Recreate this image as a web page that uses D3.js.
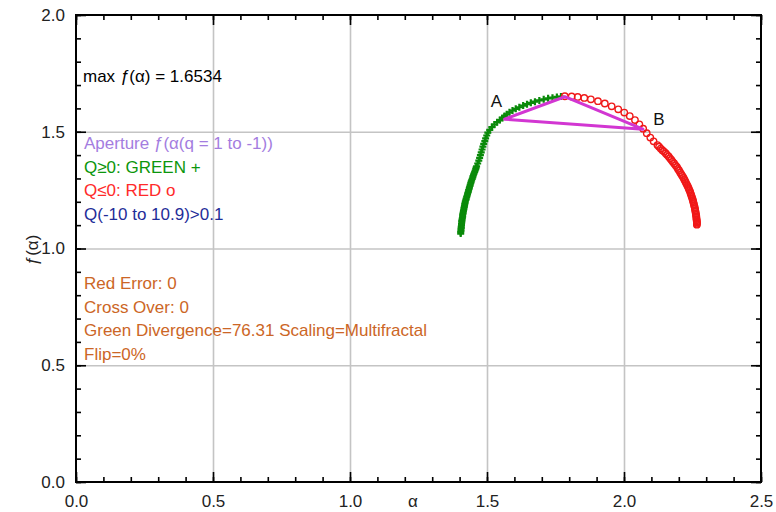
<!DOCTYPE html>
<head>
  <meta charset="utf-8">
  <title>Multifractal spectrum</title>
  <style>
    body { margin: 0; background: #fff; }
    text { font-family: "Liberation Sans", Arial, sans-serif; }
  </style>
</head>
<body>
<script src="https://d3js.org/d3.v7.min.js"></script>
<script>
// green + points (q >= 0)
var greenAlpha = [1.404,1.404,1.405,1.405,1.406,1.406,1.407,1.407,1.408,1.408,1.409,1.410,1.411,1.411,1.412,1.413,1.414,1.415,1.416,1.417,1.418,1.419,1.420,1.421,1.423,1.424,1.426,1.427,1.429,1.430,1.432,1.433,1.435,1.436,1.438,1.439,1.441,1.442,1.444,1.446,1.448,1.449,1.451,1.453,1.455,1.457,1.459,1.460,1.462,
                  1.466,1.470,1.473,1.476,1.479,1.482,1.485,1.488,1.492,1.495,1.499,1.503,1.510,1.518,1.527,1.537,1.547,1.556,1.564,1.572,1.582,1.593,1.605,1.618,1.632,1.646,1.660,1.675,1.691,1.707,1.723,1.739,1.755,1.770];
var greenF     = [1.064,1.070,1.076,1.082,1.088,1.094,1.100,1.106,1.112,1.118,1.124,1.130,1.136,1.142,1.148,1.154,1.160,1.166,1.172,1.178,1.184,1.190,1.196,1.202,1.208,1.214,1.220,1.226,1.232,1.238,1.244,1.250,1.256,1.262,1.268,1.274,1.280,1.286,1.292,1.298,1.304,1.310,1.316,1.322,1.328,1.334,1.340,1.346,1.352,
                  1.364,1.376,1.388,1.400,1.412,1.424,1.436,1.448,1.460,1.472,1.484,1.496,1.508,1.520,1.531,1.541,1.550,1.559,1.567,1.575,1.583,1.591,1.598,1.605,1.612,1.618,1.624,1.629,1.634,1.639,1.643,1.646,1.649,1.651];

// red o points (q <= 0)
var redAlpha = [1.784,1.809,1.831,1.855,1.879,1.905,1.930,1.955,1.979,2.001,2.021,2.040,2.056,2.070,2.083,2.096,2.108,2.122,
                2.128,2.134,2.140,2.146,2.152,2.157,2.163,2.168,2.173,2.178,2.183,2.188,2.193,2.197,2.201,2.205,2.209,2.213,2.217,2.220,2.223,2.226,2.229,2.232,2.235,2.237,2.240,2.242,2.244,2.246,2.248,2.250,2.252,2.253,2.255,2.256,2.258,2.259,2.260,2.261,2.262,2.263,2.264,2.264,2.265,2.265,2.266,2.266,2.266,2.266];
var redF     = [1.652,1.651,1.649,1.645,1.639,1.631,1.621,1.609,1.596,1.582,1.567,1.550,1.532,1.513,1.494,1.475,1.459,1.443,
                1.436,1.428,1.421,1.415,1.408,1.401,1.394,1.386,1.379,1.371,1.364,1.356,1.349,1.341,1.334,1.326,1.318,1.311,1.303,1.296,1.289,1.282,1.275,1.268,1.261,1.254,1.247,1.240,1.233,1.226,1.219,1.212,1.205,1.198,1.191,1.184,1.177,1.170,1.163,1.157,1.150,1.144,1.138,1.132,1.126,1.121,1.116,1.111,1.106,1.102];

// aperture triangle A - peak - B
var triAlpha = [1.564, 1.784, 2.069];
var triF     = [1.554, 1.650, 1.511];
var triNames = ["A", "", "B"];

var xMajor = [0, 0.5, 1.0, 1.5, 2.0, 2.5];
var yMajor = [0, 0.5, 1.0, 1.5, 2.0];

var infoLines = [
  {t: "Aperture \u0192(\u03b1(q = 1 to -1))", c: "#a47ddf"},
  {t: "Q\u22650: GREEN +", c: "#0c960c"},
  {t: "Q\u22640: RED o", c: "#ff2a2a"},
  {t: "Q(-10 to 10.9)>0.1", c: "#1f2d99"}
];
var statLines = ["Red Error: 0", "Cross Over: 0", "Green Divergence=76.31 Scaling=Multifractal", "Flip=0%"];

var W = 776, H = 512;
var margin = {top: 15, right: 15, bottom: 30, left: 76};
var width = W - margin.left - margin.right,
    height = H - margin.top - margin.bottom;

var svg = d3.select("body").append("svg")
    .attr("width", W)
    .attr("height", H);

var g = svg.append("g")
    .attr("transform", "translate(" + margin.left + "," + margin.top + ")");

var x = d3.scaleLinear().domain([0, 2.5]).range([0, width]);
var y = d3.scaleLinear().domain([0, 2.0]).range([height, 0]);

// grid
g.append("g")
    .attr("transform", "translate(0," + height + ")")
    .call(d3.axisBottom(x).tickValues(xMajor.slice(1, -1)).tickSize(-height).tickFormat(""))
    .call(function(s) { s.select(".domain").remove(); s.selectAll("line").attr("stroke", "#c4c4c4").attr("stroke-width", 1.6); });
g.append("g")
    .call(d3.axisLeft(y).tickValues(yMajor.slice(1, -1)).tickSize(-width).tickFormat(""))
    .call(function(s) { s.select(".domain").remove(); s.selectAll("line").attr("stroke", "#c4c4c4").attr("stroke-width", 1.6); });

// inward ticks on all four sides
var xMinor = d3.range(0, 26).map(function(i) { return i / 10; });
var yMinor = d3.range(0, 21).map(function(i) { return i / 10; });
function ticks(axis, tr) {
  var a = g.append("g").attr("transform", tr).call(axis);
  a.select(".domain").remove();
  a.selectAll("line").attr("stroke", "#000").attr("stroke-width", 1.6);
}
ticks(d3.axisBottom(x).tickValues(xMinor).tickSize(-5).tickFormat(""), "translate(0," + height + ")");
ticks(d3.axisBottom(x).tickValues(xMajor).tickSize(-10).tickFormat(""), "translate(0," + height + ")");
ticks(d3.axisTop(x).tickValues(xMinor).tickSize(-5).tickFormat(""), "translate(0,0)");
ticks(d3.axisTop(x).tickValues(xMajor).tickSize(-10).tickFormat(""), "translate(0,0)");
ticks(d3.axisLeft(y).tickValues(yMinor).tickSize(-5).tickFormat(""), "translate(0,0)");
ticks(d3.axisLeft(y).tickValues(yMajor).tickSize(-10).tickFormat(""), "translate(0,0)");
ticks(d3.axisRight(y).tickValues(yMinor).tickSize(-5).tickFormat(""), "translate(" + width + ",0)");
ticks(d3.axisRight(y).tickValues(yMajor).tickSize(-10).tickFormat(""), "translate(" + width + ",0)");

// frame
g.append("rect")
    .attr("width", width).attr("height", height)
    .attr("fill", "none").attr("stroke", "#000").attr("stroke-width", 2);

// tick labels
var xl = g.append("g")
    .attr("transform", "translate(0," + height + ")")
    .call(d3.axisBottom(x).tickValues(xMajor).tickSize(0).tickPadding(13).tickFormat(d3.format(".1f")));
xl.select(".domain").remove();
xl.selectAll("text").attr("font-size", 17).attr("fill", "#222").style("font-family", "'Liberation Sans', Arial, sans-serif");

var yl = g.append("g")
    .call(d3.axisLeft(y).tickValues(yMajor).tickSize(0).tickPadding(11).tickFormat(d3.format(".1f")));
yl.select(".domain").remove();
yl.selectAll("text").attr("font-size", 17).attr("fill", "#222").style("font-family", "'Liberation Sans', Arial, sans-serif");

// axis titles
svg.append("text")
    .attr("x", 413).attr("y", 503)
    .attr("text-anchor", "middle").attr("dominant-baseline", "middle")
    .attr("font-size", 17).attr("fill", "#222")
    .text("\u03b1");
svg.append("text")
    .attr("transform", "translate(34,250) rotate(-90)")
    .attr("text-anchor", "middle").attr("dominant-baseline", "middle")
    .attr("font-size", 17).attr("fill", "#222")
    .text("\u0192(\u03b1)");

// green plus markers
g.selectAll(".gp")
    .data(d3.range(greenAlpha.length))
  .enter().append("path")
    .attr("class", "gp")
    .attr("d", function(i) {
      var px = x(greenAlpha[i]), py = y(greenF[i]), r = 3.5;
      return "M" + (px - r) + "," + py + "H" + (px + r) + "M" + px + "," + (py - r) + "V" + (py + r);
    })
    .attr("stroke", "#0a8a0a").attr("stroke-width", 2.2).attr("fill", "none");

// red circle markers
g.selectAll(".rc")
    .data(d3.range(redAlpha.length))
  .enter().append("circle")
    .attr("class", "rc")
    .attr("cx", function(i) { return x(redAlpha[i]); })
    .attr("cy", function(i) { return y(redF[i]); })
    .attr("r", 3.2)
    .attr("fill", "none").attr("stroke", "#f01818").attr("stroke-width", 1.4);

// aperture triangle
var tri = d3.range(triAlpha.length).map(function(i) { return [x(triAlpha[i]), y(triF[i])]; });
g.append("path")
    .attr("d", d3.line()(tri) + "Z")
    .attr("fill", "none").attr("stroke", "#d236d2").attr("stroke-width", 3)
    .attr("stroke-linejoin", "round");

g.selectAll(".tn")
    .data(d3.range(triAlpha.length).filter(function(i) { return triNames[i]; }))
  .enter().append("text")
    .attr("class", "tn")
    .attr("x", function(i) { return x(triAlpha[i]) + (i == 0 ? -8 : 16); })
    .attr("y", function(i) { return y(triF[i]) + (i == 0 ? -17 : -9); })
    .attr("text-anchor", "middle").attr("dominant-baseline", "middle")
    .attr("font-size", 17).attr("fill", "#111")
    .text(function(i) { return triNames[i]; });

// annotations
var maxT = svg.append("text")
    .attr("x", 83).attr("y", 78)
    .attr("dominant-baseline", "middle")
    .attr("font-size", 17).attr("fill", "#000");
maxT.append("tspan").text("max ");
maxT.append("tspan").attr("font-style", "italic").text("\u0192");
maxT.append("tspan").text("(\u03b1) = 1.6534");

svg.selectAll(".info")
    .data(infoLines)
  .enter().append("text")
    .attr("class", "info")
    .attr("x", 84)
    .attr("y", function(d, i) { return 145 + i * 23.5; })
    .attr("dominant-baseline", "middle")
    .attr("font-size", 17)
    .attr("fill", function(d) { return d.c; })
    .text(function(d) { return d.t; });

svg.selectAll(".stat")
    .data(statLines)
  .enter().append("text")
    .attr("class", "stat")
    .attr("x", 84)
    .attr("y", function(d, i) { return 285 + i * 23.5; })
    .attr("dominant-baseline", "middle")
    .attr("font-size", 17)
    .attr("fill", "#cc6626")
    .text(function(d) { return d; });
</script>
</body>
